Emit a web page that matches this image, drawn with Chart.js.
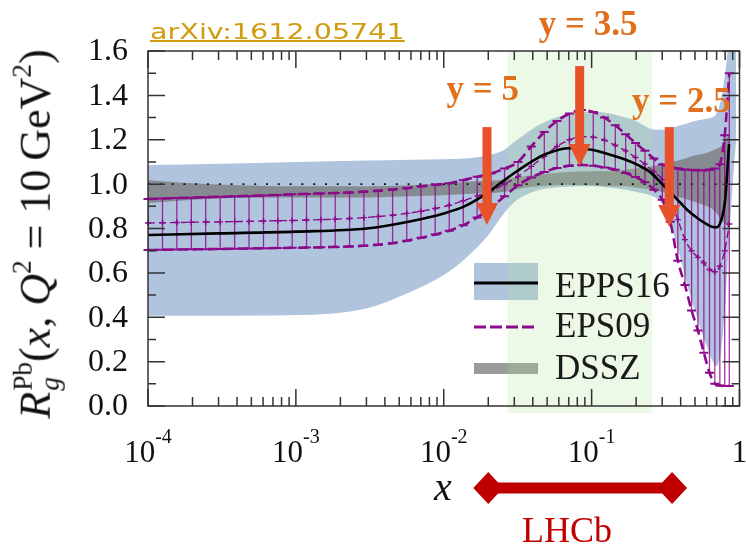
<!DOCTYPE html>
<html><head><meta charset="utf-8">
<script src="https://cdn.jsdelivr.net/npm/chart.js@4.4.1/dist/chart.umd.min.js"></script>
<style>
html,body{margin:0;padding:0;background:#fff;}
#wrap{position:relative;width:746px;height:547px;overflow:hidden;background:#fff;}
canvas{position:absolute;left:0;top:0;}
#arxiv{position:absolute;left:150px;top:21px;font:22px 'DejaVu Sans';line-height:22px;color:#d09c10;text-decoration:underline;text-decoration-thickness:2px;transform:scaleX(1.3);transform-origin:0 0;white-space:nowrap;}
#ylab{position:absolute;left:37px;top:234px;transform:translate(-50%,-50%) rotate(-90deg);font:44px 'Liberation Serif';white-space:nowrap;line-height:1;color:#111;}
#ylab .ss{display:inline-block;vertical-align:-0.35em;font-size:0.62em;line-height:1.0;margin-left:1px;}
#ylab .ss span{display:block;}
#ylab sup{font-size:0.62em;vertical-align:0.7em;line-height:0;}
</style></head><body>
<div id="wrap">
<canvas id="c" width="746" height="547"></canvas>
<div id="arxiv">arXiv:1612.05741</div>
<div id="ylab"><i>R</i><span class="ss"><span>Pb</span><span><i>g</i></span></span>(<i>x</i>, <i>Q</i><sup>2</sup> = 10&#8201;GeV<sup>2</sup>)</div>
</div>
<script>
// ---------------- data ----------------
const gridX = [1e-4, 3e-4, 1e-3, 3e-3, 6e-3, 0.01, 0.014, 0.02, 0.025, 0.03, 0.04, 0.05, 0.07, 0.1, 0.13, 0.17, 0.2, 0.25, 0.3, 0.35, 0.4, 0.45, 0.5, 0.55, 0.6, 0.65, 0.7, 0.75, 0.8, 0.85, 0.9, 0.95];
const epps16Central = [0.771, 0.778, 0.786, 0.80, 0.833, 0.868, 0.902, 0.963, 1.012, 1.05, 1.105, 1.138, 1.162, 1.155, 1.135, 1.11, 1.09, 1.053, 1.0, 0.955, 0.915, 0.88, 0.855, 0.835, 0.82, 0.808, 0.805, 0.835, 0.93, 1.18];
const epps16Upper = [1.086, 1.092, 1.10, 1.106, 1.11, 1.112, 1.115, 1.13, 1.15, 1.19, 1.25, 1.285, 1.315, 1.326, 1.32, 1.30, 1.285, 1.25, 1.245, 1.255, 1.265, 1.275, 1.285, 1.29, 1.295, 1.30, 1.32, 1.38, 1.5, 1.65, 1.75, 1.8];
const epps16Lower = [0.407, 0.407, 0.41, 0.44, 0.515, 0.59, 0.665, 0.77, 0.86, 0.92, 0.965, 0.98, 0.988, 0.99, 0.985, 0.975, 0.965, 0.95, 0.91, 0.80, 0.66, 0.53, 0.43, 0.34, 0.27, 0.21, 0.18, 0.25, 0.45, 0.75, 1.0, 1.2];
const dsszUpper = [1.018, 0.998, 0.99, 0.99, 0.995, 1.003, 1.01, 1.015, 1.02, 1.03, 1.04, 1.047, 1.055, 1.058, 1.058, 1.065, 1.07, 1.08, 1.09, 1.10, 1.11, 1.12, 1.13, 1.135, 1.14, 1.15, 1.16, 1.17, 1.2, 1.22];
const dsszLower = [0.915, 0.935, 0.94, 0.94, 0.945, 0.95, 0.955, 0.96, 0.965, 0.975, 0.988, 0.993, 0.996, 0.995, 0.99, 0.99, 0.985, 0.975, 0.965, 0.95, 0.94, 0.93, 0.92, 0.91, 0.90, 0.89, 0.87, 0.84, 0.82, 0.80];
const eps09LogX = [-4.000, -3.902, -3.805, -3.707, -3.610, -3.512, -3.414, -3.317, -3.219, -3.122, -3.025, -2.928, -2.831, -2.734, -2.637, -2.540, -2.443, -2.346, -2.250, -2.154, -2.058, -1.963, -1.868, -1.774, -1.681, -1.589, -1.498, -1.408, -1.320, -1.234, -1.150, -1.068, -0.989, -0.913, -0.840, -0.770, -0.703, -0.639, -0.579, -0.522, -0.468, -0.417, -0.369, -0.324, -0.281, -0.241, -0.203, -0.167, -0.133, -0.100, -0.069];
const eps09Upper = [0.933, 0.935, 0.937, 0.939, 0.941, 0.943, 0.945, 0.947, 0.949, 0.951, 0.954, 0.956, 0.958, 0.960, 0.962, 0.966, 0.970, 0.976, 0.982, 0.990, 0.997, 1.004, 1.018, 1.033, 1.048, 1.07, 1.10, 1.17, 1.235, 1.285, 1.318, 1.334, 1.325, 1.30, 1.265, 1.225, 1.185, 1.15, 1.115, 1.088, 1.076, 1.07, 1.066, 1.064, 1.063, 1.063, 1.065, 1.07, 1.09, 1.22, 1.50];
const eps09Central = [0.825, 0.826, 0.827, 0.828, 0.829, 0.830, 0.831, 0.832, 0.834, 0.835, 0.836, 0.838, 0.840, 0.842, 0.845, 0.849, 0.854, 0.86, 0.868, 0.878, 0.89, 0.905, 0.925, 0.947, 0.97, 1.00, 1.035, 1.08, 1.125, 1.17, 1.20, 1.214, 1.212, 1.198, 1.175, 1.15, 1.12, 1.09, 1.055, 1.02, 0.93, 0.84, 0.75, 0.70, 0.67, 0.645, 0.615, 0.605, 0.63, 0.70, 0.82];
const eps09Lower = [0.703, 0.704, 0.705, 0.706, 0.707, 0.708, 0.709, 0.71, 0.711, 0.712, 0.713, 0.714, 0.715, 0.717, 0.719, 0.722, 0.727, 0.734, 0.745, 0.758, 0.773, 0.79, 0.815, 0.85, 0.895, 0.945, 0.995, 1.03, 1.055, 1.073, 1.083, 1.086, 1.083, 1.075, 1.065, 1.05, 1.032, 1.008, 0.975, 0.93, 0.83, 0.655, 0.545, 0.43, 0.34, 0.24, 0.15, 0.10, 0.092, 0.09, 0.09];
const xMajorTicks = [1e-4, 1e-3, 1e-2, 1e-1, 1];
const xTickBase = ['10', '10', '10', '10', '1'];
const xTickExp = ['-4', '-3', '-2', '-1', ''];
const yTickValues = [0, 0.2, 0.4, 0.6, 0.8, 1.0, 1.2, 1.4, 1.6];
const yTickLabels = ['0.0', '0.2', '0.4', '0.6', '0.8', '1.0', '1.2', '1.4', '1.6'];
const seriesNames = ['EPPS16', 'EPS09', 'DSSZ'];
const greenRange = [0.027, 0.257];
const lhcbRange = [0.02, 0.35];
const rapidityLabels = ['y = 5', 'y = 3.5', 'y = 2.5'];
const rapidityX = [0.0196, 0.083, 0.335];

// ---------------- layout / style (not data) ----------------
const arrowGeom = [ {from:1.257, to:0.816, tx:0.01837, ty:1.379},
                    {from:1.532, to:1.082, tx:0.0946, ty:1.672},
                    {from:1.257, to:0.807, tx:0.4046, ty:1.325} ];
const PURPLE = '#8b0a8b';
const SERIF = "'Liberation Serif', 'DejaVu Serif', serif";
const pts = (xs, ys) => ys.map((y, i) => ({x: xs[i], y}));
const eps09X = eps09LogX.map(l => Math.pow(10, l));
const vertData = eps09X.flatMap((x, i) => [{x, y: eps09Lower[i]}, {x, y: eps09Upper[i]}, {x, y: null}]);
const xMinor = [];
for (let d = -4; d < 0; d++) for (let m = 2; m <= 9; m++) xMinor.push(m * Math.pow(10, d));
const yMinor = [];
for (let i = 0; i <= 16; i++) yMinor.push(i / 10);

const overlay = {
  id: 'overlay',
  beforeDatasetDraw(chart, args) {
    const ds = chart.data.datasets[args.index];
    if (ds.label !== 'unity') return;
    const ctx = chart.ctx, xs = chart.scales.x, a = chart.chartArea;
    ctx.save();
    ctx.fillStyle = '#b0c4de';
    ctx.fillRect(474, 263, 64, 37);
    ctx.fillStyle = 'rgba(120,120,120,0.75)';
    ctx.fillRect(474, 363, 64, 11);
    const g0 = xs.getPixelForValue(greenRange[0]), g1 = xs.getPixelForValue(greenRange[1]);
    ctx.fillStyle = 'rgba(175,228,145,0.22)';
    ctx.fillRect(g0, a.top, g1 - g0, a.bottom - a.top + 7);
    ctx.restore();
  },
  afterDatasetsDraw(chart) {
    const ctx = chart.ctx, xs = chart.scales.x, ys = chart.scales.y, a = chart.chartArea;
    ctx.save();
    ctx.strokeStyle = '#000'; ctx.lineWidth = 3;
    ctx.beginPath(); ctx.moveTo(474, 283); ctx.lineTo(538, 283); ctx.stroke();
    ctx.strokeStyle = PURPLE; ctx.setLineDash([12, 4]);
    ctx.beginPath(); ctx.moveTo(474, 327); ctx.lineTo(538, 327); ctx.stroke();
    ctx.setLineDash([]);
    ctx.fillStyle = '#1a1a1a'; ctx.font = "35px " + SERIF;
    ctx.textAlign = 'left'; ctx.textBaseline = 'alphabetic';
    ctx.fillText(seriesNames[0], 555, 297);
    ctx.fillText(seriesNames[1], 555, 337);
    ctx.fillText(seriesNames[2], 555, 379);
    rapidityLabels.forEach((t, i) => {
      const g = arrowGeom[i];
      const x = xs.getPixelForValue(rapidityX[i]);
      const y0 = ys.getPixelForValue(g.from), y1 = ys.getPixelForValue(g.to);
      const hl = 22, hw = 11, sw = 4.5;
      ctx.fillStyle = '#e8522a';
      ctx.fillRect(x - sw, y0, 2 * sw, y1 - y0 - hl + 1);
      ctx.beginPath(); ctx.moveTo(x - hw, y1 - hl); ctx.lineTo(x + hw, y1 - hl); ctx.lineTo(x, y1); ctx.closePath(); ctx.fill();
      ctx.fillStyle = '#e0701c'; ctx.font = "bold 35px " + SERIF; ctx.textAlign = 'center';
      ctx.fillText(t, xs.getPixelForValue(g.tx), ys.getPixelForValue(g.ty));
    });
    ctx.strokeStyle = '#333'; ctx.lineWidth = 1.5;
    ctx.strokeRect(a.left, a.top, a.right - a.left, a.bottom - a.top);
    ctx.beginPath();
    const tick = (x1, y1, x2, y2) => { ctx.moveTo(x1, y1); ctx.lineTo(x2, y2); };
    xMajorTicks.forEach(v => { const p = xs.getPixelForValue(v); tick(p, a.bottom, p, a.bottom - 17); tick(p, a.top, p, a.top + 17); });
    xMinor.forEach(v => { const p = xs.getPixelForValue(v); tick(p, a.bottom, p, a.bottom - 9); tick(p, a.top, p, a.top + 9); });
    yMinor.forEach((v, i) => { const p = ys.getPixelForValue(v); const L = (i % 2 === 0) ? 17 : 8;
      tick(a.left, p, a.left + L, p); tick(a.right, p, a.right - L, p); });
    ctx.stroke();
    ctx.fillStyle = '#111'; ctx.textAlign = 'right'; ctx.textBaseline = 'middle';
    ctx.font = "32px " + SERIF;
    yTickValues.forEach((v, i) => ctx.fillText(yTickLabels[i], 128, ys.getPixelForValue(v) + 1));
    ctx.textBaseline = 'alphabetic'; ctx.textAlign = 'left';
    xMajorTicks.forEach((v, i) => {
      const p = xs.getPixelForValue(v);
      ctx.font = "31px " + SERIF; const wb = ctx.measureText(xTickBase[i]).width;
      ctx.font = "20px " + SERIF; const we = xTickExp[i] ? ctx.measureText(xTickExp[i]).width : 0;
      const x0 = p - (wb + we) / 2;
      ctx.font = "31px " + SERIF; ctx.fillText(xTickBase[i], x0, 462);
      if (xTickExp[i]) { ctx.font = "20px " + SERIF; ctx.fillText(xTickExp[i], x0 + wb, 443); }
    });
    ctx.font = "italic 40px " + SERIF; ctx.textAlign = 'center';
    ctx.fillText('x', 443, 500);
    const l0 = xs.getPixelForValue(lhcbRange[0]), l1 = xs.getPixelForValue(lhcbRange[1]);
    const yb = 488;
    ctx.fillStyle = '#c00000';
    ctx.fillRect(l0, yb - 5.5, l1 - l0, 11);
    [l0, l1].forEach(p => { ctx.beginPath(); ctx.moveTo(p - 15, yb); ctx.lineTo(p, yb - 16); ctx.lineTo(p + 15, yb); ctx.lineTo(p, yb + 16); ctx.closePath(); ctx.fill(); });
    ctx.font = "36px " + SERIF; ctx.textAlign = 'center';
    ctx.fillText('LHCb', 567, 542);
    ctx.restore();
  }
};

const lineBase = {pointRadius: 0, pointHoverRadius: 0, fill: false};
new Chart(document.getElementById('c'), {
  type: 'line',
  data: { datasets: [
    {...lineBase, label: seriesNames[0], data: pts(gridX, epps16Central), borderColor: '#000', borderWidth: 2.6, cubicInterpolationMode: 'monotone', order: 1},
    {...lineBase, label: 'EPS09 central', data: pts(eps09X, eps09Central), borderColor: PURPLE, borderWidth: 1.4, borderDash: [7, 4], cubicInterpolationMode: 'monotone',
      pointRadius: 3, pointStyle: 'cross', pointBorderColor: PURPLE, pointBorderWidth: 1.4, order: 2, clip: {left: 8, right: 8, top: 0, bottom: 0}},
    {...lineBase, label: 'EPS09 upper', data: pts(eps09X, eps09Upper), borderColor: PURPLE, borderWidth: 2.6, borderDash: [10, 5], cubicInterpolationMode: 'monotone',
      pointRadius: 4.5, pointStyle: 'line', pointBorderColor: PURPLE, pointBorderWidth: 2, order: 3, clip: {left: 8, right: 8, top: 0, bottom: 0}},
    {...lineBase, label: 'EPS09 lower', data: pts(eps09X, eps09Lower), borderColor: PURPLE, borderWidth: 2.6, borderDash: [10, 5], cubicInterpolationMode: 'monotone',
      pointRadius: 4.5, pointStyle: 'line', pointBorderColor: PURPLE, pointBorderWidth: 2, order: 3, clip: {left: 8, right: 8, top: 0, bottom: 0}},
    {...lineBase, label: 'EPS09 bars', data: vertData, borderColor: 'rgba(140,0,140,0.8)', borderWidth: 1.3, spanGaps: false, tension: 0, order: 4},
    {...lineBase, label: 'unity', data: [{x: 1e-4, y: 1}, {x: 1, y: 1}], borderColor: '#111', borderWidth: 1.8, borderDash: [2, 9.8], order: 5},
    {...lineBase, label: 'DSSZ up', data: pts(gridX, dsszUpper), borderColor: 'transparent', borderWidth: 0, fill: '+1', backgroundColor: 'rgba(120,120,120,0.75)', cubicInterpolationMode: 'monotone', order: 6},
    {...lineBase, label: 'DSSZ lo', data: pts(gridX, dsszLower), borderColor: 'transparent', borderWidth: 0, cubicInterpolationMode: 'monotone', order: 6},
    {...lineBase, label: 'EPPS16 up', data: pts(gridX, epps16Upper), borderColor: 'transparent', borderWidth: 0, fill: '+1', backgroundColor: '#b0c4de', cubicInterpolationMode: 'monotone', order: 7},
    {...lineBase, label: 'EPPS16 lo', data: pts(gridX, epps16Lower), borderColor: 'transparent', borderWidth: 0, cubicInterpolationMode: 'monotone', order: 7}
  ]},
  options: {
    responsive: false, animation: false, devicePixelRatio: 1, events: [],
    layout: {padding: {left: 148, top: 51, right: 6, bottom: 141}},
    plugins: {legend: {display: false}, tooltip: {enabled: false}},
    scales: {
      x: {type: 'logarithmic', min: 1e-4, max: 1, display: false},
      y: {type: 'linear', min: 0, max: 1.6, display: false}
    }
  },
  plugins: [overlay]
});
</script>
</body></html>
